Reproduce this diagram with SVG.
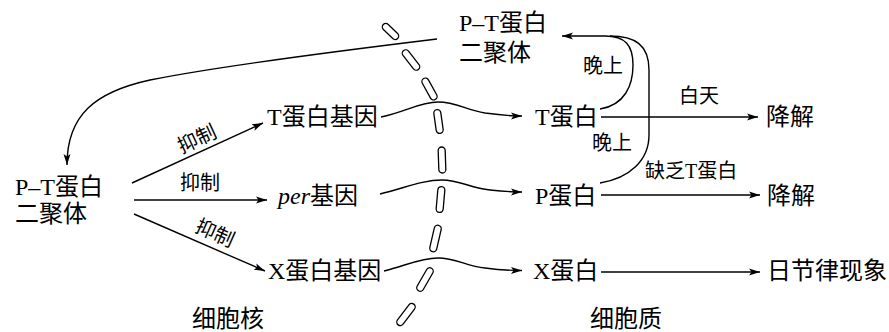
<svg xmlns="http://www.w3.org/2000/svg" width="889" height="332" viewBox="0 0 889 332">
<style>
text{font-family:"Liberation Serif","Noto Sans CJK SC",serif;fill:#000}
.n{font-size:24px}
.s{font-size:20px}
.c{fill:none;stroke:#000;stroke-width:1.4}
.m{fill:#fff;stroke:#000;stroke-width:1.3}
</style>
<defs>
<marker id="ah" markerUnits="userSpaceOnUse" markerWidth="12" markerHeight="8" refX="11" refY="4" orient="auto">
<path d="M0,0.5 L11,4 L0,7.5 L2.5,4 z" fill="#000"/>
</marker>
</defs>
<rect width="889" height="332" fill="#fff"/>
<g id="membrane">
<rect class="m" x="-3.5" y="-10" width="7" height="20" rx="3.5" transform="translate(390.5,31.5) rotate(-46)"/>
<rect class="m" x="-3.5" y="-12" width="7" height="24" rx="3.5" transform="translate(411,60) rotate(-38)"/>
<rect class="m" x="-3.5" y="-12" width="7" height="24" rx="3.5" transform="translate(429.5,89) rotate(-29)"/>
<rect class="m" x="-3.5" y="-12" width="7" height="24" rx="3.5" transform="translate(438.5,121.5) rotate(-8)"/>
<rect class="m" x="-3.5" y="-13" width="7" height="26" rx="3.5" transform="translate(442,160) rotate(-2)"/>
<rect class="m" x="-3.5" y="-13" width="7" height="26" rx="3.5" transform="translate(440.5,199.5) rotate(5)"/>
<rect class="m" x="-3.5" y="-13.5" width="7" height="27" rx="3.5" transform="translate(435.5,238.5) rotate(13)"/>
<rect class="m" x="-3.5" y="-13" width="7" height="26" rx="3.5" transform="translate(425,279.5) rotate(30)"/>
<rect class="m" x="-3.5" y="-13" width="7" height="26" rx="3.5" transform="translate(406,314.5) rotate(37)"/>
</g>
<g id="connectors">
<path class="c" d="M437,39 C330,52 220,66 150,80 C95,92 67,115 67,165" marker-end="url(#ah)"/>
<path class="c" d="M132,183 L263,123" marker-end="url(#ah)"/>
<path class="c" d="M134,200 L267,200" marker-end="url(#ah)"/>
<path class="c" d="M134,214 L265,271" marker-end="url(#ah)"/>
<path class="c" d="M381,117 C405,112 420,102 438,102 C456,102 466,110 485,113 C500,115 510,116 522,116" marker-end="url(#ah)"/>
<path class="c" d="M380,194 C405,188 422,180 442,180 C460,180 470,188 490,190 C505,191.5 512,192 522,192" marker-end="url(#ah)"/>
<path class="c" d="M384,271 C405,266 420,258 438,258 C456,258 466,266 485,268 C500,270 510,270.5 522,270.5" marker-end="url(#ah)"/>
<path class="c" d="M601,117 L758,117" marker-end="url(#ah)"/>
<path class="c" d="M601,195 L760,195" marker-end="url(#ah)"/>
<path class="c" d="M601,272 L760,272" marker-end="url(#ah)"/>
<path class="c" d="M600,109 C625,105 633,85 633,65 C633,45 625,36 605,36 L562,36" marker-end="url(#ah)"/>
<path class="c" d="M600,183 C630,178 649,160 649,135 L649,70 C649,45 635,36 610,36"/>
</g>
<g id="node-pt-top"><text class="n" x="459" y="31">P–T蛋白</text><text class="n" x="459" y="61">二聚体</text></g>
<g id="node-pt-left"><text class="n" x="15" y="195">P–T蛋白</text><text class="n" x="15" y="222">二聚体</text></g>
<g id="node-t-gene"><text class="n" x="267" y="125">T蛋白基因</text></g>
<g id="node-per-gene"><text class="n" x="278" y="204"><tspan font-style="italic">per</tspan>基因</text></g>
<g id="node-x-gene"><text class="n" x="268" y="279">X蛋白基因</text></g>
<g id="node-t-protein"><text class="n" x="535" y="125">T蛋白</text></g>
<g id="node-p-protein"><text class="n" x="535" y="204">P蛋白</text></g>
<g id="node-x-protein"><text class="n" x="533" y="279">X蛋白</text></g>
<g id="node-deg1"><text class="n" x="766" y="125">降解</text></g>
<g id="node-deg2"><text class="n" x="767" y="204">降解</text></g>
<g id="node-rhythm"><text class="n" x="767" y="279">日节律现象</text></g>
<g id="node-nucleus"><text class="n" x="192" y="327">细胞核</text></g>
<g id="node-cytoplasm"><text class="n" x="590" y="327">细胞质</text></g>
<g id="labels">
<text class="s" text-anchor="middle" transform="translate(197,139) rotate(-25)" x="0" y="7">抑制</text>
<text class="s" x="180" y="190">抑制</text>
<text class="s" text-anchor="middle" transform="translate(215,233) rotate(24)" x="0" y="7">抑制</text>
<text class="s" x="583" y="73">晚上</text>
<text class="s" x="679" y="103">白天</text>
<text class="s" x="592" y="150">晚上</text>
<text class="s" x="645" y="178">缺乏T蛋白</text>
</g>
</svg>
